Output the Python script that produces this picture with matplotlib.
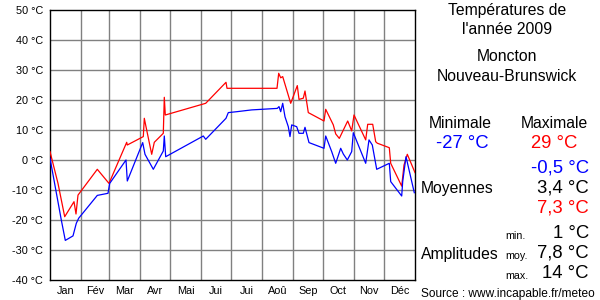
import matplotlib
matplotlib.use("Agg")
import matplotlib.pyplot as plt

# Data (day of year, temperature °C)
max_days = [0, 8, 14.7, 24, 26, 28, 47.3, 59, 76.7, 77.3, 93.3, 94.3, 96, 101.7, 104.3, 113.3, 114.3, 115.3,
            155.7, 176, 177, 227, 228.7, 230.7, 232.7, 240.7, 247.3, 249, 253.3, 255, 258.3, 274, 275.7,
            283.3, 285.7, 289.3, 297.7, 301.7, 304, 315.7, 317.7, 322.7, 325.7, 327.3, 339.3, 340.7,
            351.7, 354, 357.3, 365]
max_vals = [2.8, -7.8, -18.9, -13.9, -18, -11.7, -3.1, -7.8, 5.9, 5, 7.8, 13.9, 11.1, 1.9, 5.9, 8.9, 20.9, 15,
            18.9, 25.9, 23.9, 23.9, 28.9, 27.4, 27.8, 18.9, 24.8, 20.2, 20.6, 23, 15.8, 13, 16.9,
            11.7, 8.7, 7.2, 13, 9.7, 15, 6.7, 11.9, 11.9, 6.1, 5.6, 4.1, -1.1,
            -8.7, -1.7, 1.9, -4.2]

min_days = [0, 11.3, 15.3, 23, 26.3, 28.7, 47.3, 58, 59.7, 76, 77.3, 92.7, 95, 103.3, 113.3, 114.3, 115.7,
            153.3, 155.7, 176, 178.3, 186.7, 201.7, 227.3, 229, 230.7, 232.7, 235, 238.3, 240, 241.7,
            246.7, 249, 253.3, 255, 259, 274, 275.7, 281.7, 285.7, 290.7, 293.3, 297.3, 301.7, 303.3,
            315.7, 319, 322.3, 326.7, 339.3, 340.7, 351.7, 352.7, 356, 364.3]
min_vals = [0.6, -20, -26.8, -25.3, -21.1, -19.4, -11.8, -11.1, -7.8, 0, -7, 5.8, 1.9, -3.1, 3, 8, 1.1,
            8, 6.9, 13.9, 15.8, 16.1, 16.7, 17.2, 17.8, 16.1, 18.9, 14.4, 11.1, 7.8, 11.7,
            11.1, 8.9, 8.9, 10.9, 5.8, 3.9, 8, 2.8, -1.1, 3.9, 2, 0, 2.8, 9.1,
            -1.1, 6.7, 5, -3.1, -1.1, -7.2, -12, -7.2, 1.1, -10.9]

months = ["Jan", "Fév", "Mar", "Avr", "Mai", "Jui", "Jui", "Aoû", "Sep", "Oct", "Nov", "Déc"]
month_starts = [0, 31, 59, 90, 120, 151, 181, 212, 243, 273, 304, 334, 365]
yticks = [-40, -30, -20, -10, 0, 10, 20, 30, 40, 50]

FONT = "Liberation Sans"
W, H = 600, 300
fig = plt.figure(figsize=(6, 3), dpi=100)
ax = fig.add_axes([50 / W, 1 - 280 / H, 365 / W, 270 / H])
ax.set_xlim(0, 365)
ax.set_ylim(-40, 50)

for m in month_starts[1:-1]:
    ax.axvline(m, color="#808080", lw=1.0, zorder=1)
for t in yticks[1:-1]:
    ax.axhline(t, color="#808080", lw=1.0, zorder=1)

ax.plot(max_days, max_vals, color="#ff0000", lw=0.9, zorder=3)
ax.plot(min_days, min_vals, color="#0000ff", lw=0.9, zorder=3)

ax.set_yticks(yticks)
ax.set_yticklabels([f"{t} °C" for t in yticks], fontsize=7.8, family=FONT)
ax.tick_params(axis="y", length=0, pad=5)
centers = [(month_starts[i] + month_starts[i + 1]) / 2 for i in range(12)]
ax.set_xticks(centers)
ax.set_xticklabels(months, fontsize=7.8, family=FONT)
ax.tick_params(axis="x", length=0, pad=4)
for s in ax.spines.values():
    s.set_color("black")
    s.set_linewidth(1.0)


def t(x, y, s, size, color="black", ha="center", va="center"):
    fig.text(x / W, 1 - y / H, s, fontsize=size, color=color, ha=ha, va=va, family=FONT)


t(507, 10, "Températures de", 11.3)
t(507, 30, "l'année 2009", 11.3)
t(507, 57, "Moncton", 11.3)
t(507, 77, "Nouveau-Brunswick", 11.3)
t(460, 124, "Minimale", 11.3)
t(554, 124, "Maximale", 11.3)
t(462, 143, "-27 °C", 13.3, color="#0000ff")
t(554, 143, "29 °C", 13.3, color="#ff0000")
t(589, 168, "-0,5 °C", 13.3, color="#0000ff", ha="right")
t(589, 188, "3,4 °C", 13.3, ha="right")
t(589, 208, "7,3 °C", 13.3, color="#ff0000", ha="right")
t(457, 189, "Moyennes", 11.3)
t(589, 233, "1 °C", 13.3, ha="right")
t(589, 253, "7,8 °C", 13.3, ha="right")
t(589, 273, "14 °C", 13.3, ha="right")
t(505, 236, "min.", 7.7, ha="left")
t(505, 256, "moy.", 7.7, ha="left")
t(505, 276, "max.", 7.7, ha="left")
t(460, 254, "Amplitudes", 11.3)
t(508, 294, "Source : www.incapable.fr/meteo", 8.6)

fig.savefig("out.png", dpi=100)
